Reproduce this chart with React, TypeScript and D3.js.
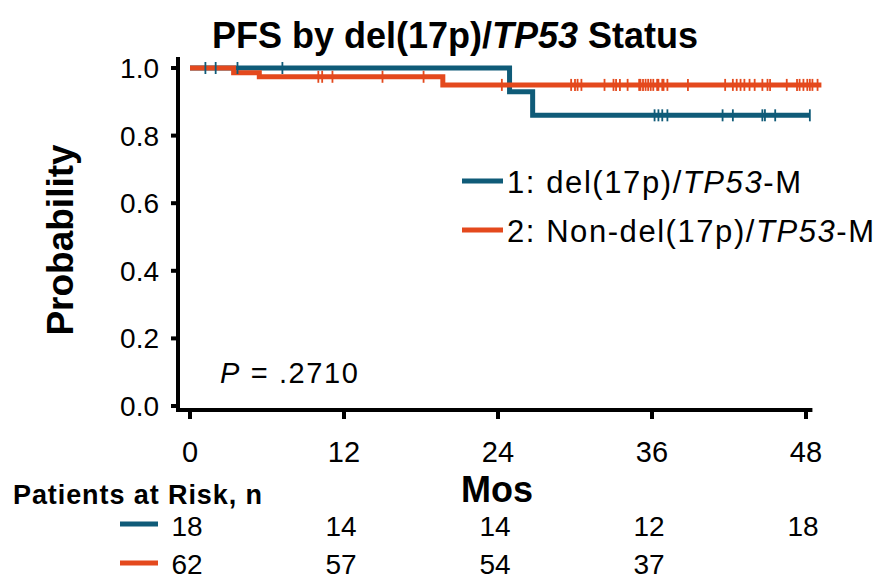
import React from "react";
import * as d3 from "d3";

// Kaplan-Meier curves (months, survival probability)
const blueEventTimes = [24.9, 26.7];
const blueEventSurv = [0.93, 0.86];
const blueEnd = 48.3;
const blueCensor = [1.2, 2.0, 3.7, 7.2, 36.2, 36.5, 36.8, 37.2, 41.5, 42.3, 44.6, 44.8, 45.6, 48.3];

const orangeEventTimes = [3.4, 5.4, 19.7];
const orangeEventSurv = [0.986, 0.974, 0.95];
const orangeEnd = 49.2;
const orangeCensor = [
  10.0, 10.3, 11.1, 15.0, 18.2, 24.3, 29.7, 30.0, 30.2, 30.5, 32.3, 33.0, 33.2, 33.5, 34.1,
  35.0, 35.1, 35.3, 35.5, 35.7, 35.9, 36.1, 36.4, 36.5, 36.8, 36.9, 37.2, 38.8, 41.7, 42.3,
  42.6, 42.9, 43.2, 43.6, 44.0, 44.6, 45.0, 45.2, 46.5, 47.3, 47.5, 47.8, 48.1, 48.3, 48.5, 48.9,
];

const xTicks = [0, 12, 24, 36, 48];
const yTicks = [0, 0.2, 0.4, 0.6, 0.8, 1.0];

const riskTimes = [0, 12, 24, 36, 48];
const riskBlue = [18, 14, 14, 12, 18];
const riskOrange = [62, 57, 54, 37];

const BLUE = "#0f5b78";
const ORANGE = "#e4491d";
const FONT = "'Liberation Sans', Arial, sans-serif";

const kmPoints = (times: number[], surv: number[], end: number): [number, number][] => {
  const pts: [number, number][] = [[0, 1]];
  times.forEach((t, i) => pts.push([t, surv[i]]));
  pts.push([end, surv[surv.length - 1]]);
  return pts;
};

const survAt = (times: number[], surv: number[], t: number) => {
  let s = 1;
  times.forEach((et, i) => {
    if (et <= t) s = surv[i];
  });
  return s;
};

const App = () => {
  const width = 890;
  const height = 579;

  const xScale = d3.scaleLinear().domain([0, 48]).range([190, 806]);
  const yScale = d3.scaleLinear().domain([0, 1]).range([406, 68]);

  const line = d3
    .line<[number, number]>()
    .x((d) => xScale(d[0]))
    .y((d) => yScale(d[1]))
    .curve(d3.curveStepAfter);

  const bluePath = line(kmPoints(blueEventTimes, blueEventSurv, blueEnd)) || "";
  const orangePath = line(kmPoints(orangeEventTimes, orangeEventSurv, orangeEnd)) || "";

  const axisX = 178;
  const axisY = 410;

  return (
    <svg width={width} height={height} style={{ position: "absolute", left: 0, top: 0 }} fontFamily={FONT}>
      <rect width={width} height={height} fill="#fff" />
      <text x={455} y={48} textAnchor="middle" fontSize={36} fontWeight="bold">
        PFS by del(17p)/<tspan fontStyle="italic">TP53</tspan> Status
      </text>

      {/* curves */}
      <path d={bluePath} fill="none" stroke={BLUE} strokeWidth={5} />
      <path d={orangePath} fill="none" stroke={ORANGE} strokeWidth={5} />
      {blueCensor.map((t, i) => {
        const y = yScale(survAt(blueEventTimes, blueEventSurv, t));
        return <line key={"b" + i} x1={xScale(t)} x2={xScale(t)} y1={y - 6} y2={y + 6} stroke={BLUE} strokeWidth={1.8} />;
      })}
      {orangeCensor.map((t, i) => {
        const y = yScale(survAt(orangeEventTimes, orangeEventSurv, t));
        return <line key={"o" + i} x1={xScale(t)} x2={xScale(t)} y1={y - 6} y2={y + 6} stroke={ORANGE} strokeWidth={1.8} />;
      })}

      {/* axes */}
      <line x1={axisX} x2={axisX} y1={57} y2={axisY + 2} stroke="#000" strokeWidth={4} />
      <line x1={axisX - 2} x2={xScale(48.5)} y1={axisY} y2={axisY} stroke="#000" strokeWidth={4} />
      {yTicks.map((v) => (
        <g key={v}>
          <line x1={axisX - 7} x2={axisX} y1={yScale(v)} y2={yScale(v)} stroke="#000" strokeWidth={4} />
          <text x={159} y={yScale(v) + 10} textAnchor="end" fontSize={28}>
            {v.toFixed(1)}
          </text>
        </g>
      ))}
      {xTicks.map((v) => (
        <g key={v}>
          <line x1={xScale(v)} x2={xScale(v)} y1={axisY} y2={axisY + 9} stroke="#000" strokeWidth={4} />
          <text x={xScale(v)} y={462} textAnchor="middle" fontSize={29}>
            {v}
          </text>
        </g>
      ))}
      <text
        transform={`translate(73,240) rotate(-90)`}
        textAnchor="middle"
        fontSize={37}
        fontWeight="bold"
      >
        Probability
      </text>
      <text x={497} y={502} textAnchor="middle" fontSize={36} fontWeight="bold">
        Mos
      </text>

      {/* p value */}
      <text x={220} y={383} fontSize={29} textLength={138} lengthAdjust="spacing">
        <tspan fontStyle="italic">P</tspan> = .2710
      </text>

      {/* legend */}
      <line x1={462} x2={503} y1={181} y2={181} stroke={BLUE} strokeWidth={5} />
      <text x={507} y={193} fontSize={31} textLength={294} lengthAdjust="spacing">
        1: del(17p)/<tspan fontStyle="italic">TP53</tspan>-M
      </text>
      <line x1={462} x2={503} y1={230} y2={230} stroke={ORANGE} strokeWidth={5} />
      <text x={507} y={242} fontSize={31} textLength={367} lengthAdjust="spacing">
        2: Non-del(17p)/<tspan fontStyle="italic">TP53</tspan>-M
      </text>

      {/* risk table */}
      <text x={13} y={504} fontSize={27} fontWeight="bold" textLength={249} lengthAdjust="spacing">
        Patients at Risk, n
      </text>
      <line x1={120} x2={158} y1={524} y2={524} stroke={BLUE} strokeWidth={5} />
      <line x1={120} x2={158} y1={563} y2={563} stroke={ORANGE} strokeWidth={5} />
      {riskBlue.map((n, i) => (
        <text key={"rb" + i} x={xScale(riskTimes[i]) - 3} y={536} textAnchor="middle" fontSize={28}>
          {n}
        </text>
      ))}
      {riskOrange.map((n, i) => (
        <text key={"ro" + i} x={xScale(riskTimes[i]) - 3} y={574} textAnchor="middle" fontSize={28}>
          {n}
        </text>
      ))}
    </svg>
  );
};

export default App;
